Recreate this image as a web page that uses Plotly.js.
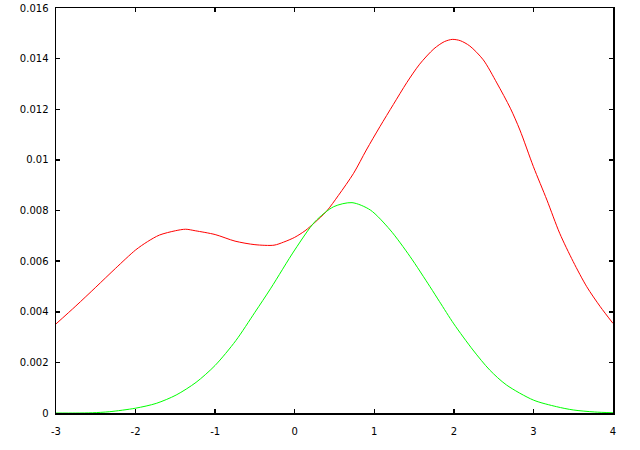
<!DOCTYPE html>
<html>
<head>
<meta charset="utf-8">
<script src="https://cdn.plot.ly/plotly-3.0.1.min.js"></script>
<style>html,body{margin:0;padding:0;background:#fff}#chart{width:640px;height:450px}</style>
</head>
<body>
<div id="chart"></div>
<script>
const redX = [-3, -2.75, -2.5, -2.25, -2.0, -1.85, -1.7, -1.5, -1.37, -1.25, -1.0, -0.75, -0.5, -0.26, -0.14, 0.0, 0.13, 0.25, 0.4, 0.55, 0.74, 0.9, 1.07, 1.24, 1.41, 1.57, 1.75, 1.88, 1.98, 2.08, 2.2, 2.37, 2.54, 2.71, 2.83, 3.0, 3.17, 3.33, 3.5, 3.67, 3.84, 4.0];
const redY = [0.00352, 0.00423, 0.00497, 0.00572, 0.00644, 0.00677, 0.00703, 0.0072, 0.00726, 0.0072, 0.00705, 0.00679, 0.00665, 0.00663, 0.00675, 0.00694, 0.0072, 0.00752, 0.00797, 0.0086, 0.00947, 0.01039, 0.01131, 0.01219, 0.01306, 0.01378, 0.01439, 0.01467, 0.01476, 0.01471, 0.0145, 0.01395, 0.01304, 0.01204, 0.01118, 0.00973, 0.00841, 0.0071, 0.00598, 0.00499, 0.0042, 0.00354];
const greenX = [-3, -2.75, -2.54, -2.33, -2.0, -1.74, -1.49, -1.24, -1.0, -0.74, -0.5, -0.3, 0.0, 0.255, 0.49, 0.72, 0.95, 1.2, 1.45, 1.7, 1.82, 2.0, 2.24, 2.45, 2.66, 3.0, 3.29, 3.5, 3.77, 4.0];
const greenY = [0, 0, 0.00001, 0.00005, 0.00019, 0.00038, 0.00071, 0.00121, 0.00188, 0.00286, 0.00398, 0.00493, 0.00644, 0.00756, 0.00815, 0.00831, 0.00802, 0.00723, 0.00618, 0.00499, 0.0044, 0.00352, 0.00249, 0.0017, 0.00111, 0.00051, 0.00025, 0.00012, 0.00004, 0.00001];
const xTicks = [-3, -2, -1, 0, 1, 2, 3, 4];
const yTicks = [0, 0.002, 0.004, 0.006, 0.008, 0.01, 0.012, 0.014, 0.016];

const traces = [
  {x: redX, y: redY, mode: 'lines', line: {color: '#ff0000', width: 1, shape: 'spline', smoothing: 0.8}, hoverinfo: 'none'},
  {x: greenX, y: greenY, mode: 'lines', line: {color: '#00ff00', width: 1, shape: 'spline', smoothing: 0.8}, hoverinfo: 'none'}
];
const axisCommon = {
  showgrid: false, zeroline: false, showline: true, linecolor: '#000', linewidth: 1.5,
  mirror: 'ticks', ticks: 'inside', ticklen: 4, tickwidth: 1.5, tickcolor: '#000',
  tickfont: {family: 'DejaVu Sans, sans-serif', size: 10, color: '#000'}
};
const layout = {
  width: 640, height: 450,
  margin: {l: 56, r: 27, t: 8, b: 37},
  paper_bgcolor: '#fff', plot_bgcolor: '#fff',
  showlegend: false,
  xaxis: Object.assign({}, axisCommon, {range: [-3, 4], tickvals: xTicks, ticktext: xTicks.map(String), ticklabelstandoff: 8}),
  yaxis: Object.assign({}, axisCommon, {range: [0, 0.016], tickvals: yTicks, ticktext: yTicks.map(String), ticklabelstandoff: 4})
};
Plotly.newPlot('chart', traces, layout, {staticPlot: true, displayModeBar: false});
</script>
</body>
</html>
